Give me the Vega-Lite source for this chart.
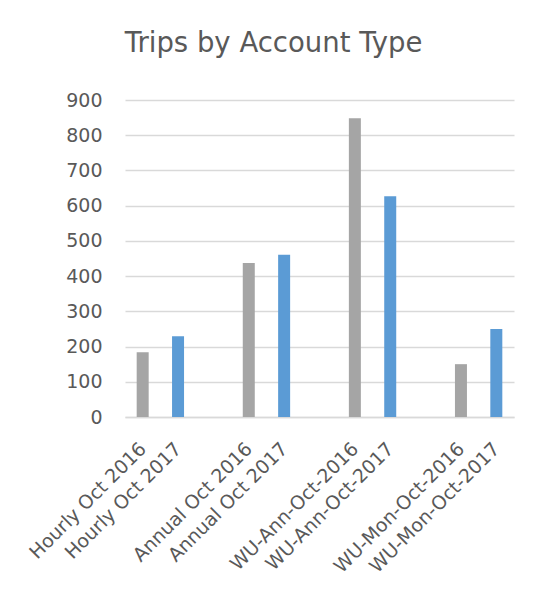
{
  "$schema": "https://vega.github.io/schema/vega-lite/v6.json",
  "width": 389,
  "height": 317,
  "padding": {"left": 26, "top": 29, "right": 25, "bottom": 5},
  "background": "white",
  "title": {
    "text": "Trips by Account Type",
    "font": "DejaVu Sans",
    "fontSize": 27.5,
    "fontWeight": "normal",
    "color": "#595959",
    "anchor": "middle",
    "frame": "group",
    "dx": -46,
    "offset": 34
  },
  "data": {
    "values": [
      {"category": "Hourly Oct 2016", "year": "2016", "trips": 184},
      {"category": "Hourly Oct 2017", "year": "2017", "trips": 229},
      {"category": "Annual Oct 2016", "year": "2016", "trips": 437},
      {"category": "Annual Oct 2017", "year": "2017", "trips": 461},
      {"category": "WU-Ann-Oct-2016", "year": "2016", "trips": 848},
      {"category": "WU-Ann-Oct-2017", "year": "2017", "trips": 627},
      {"category": "WU-Mon-Oct-2016", "year": "2016", "trips": 150},
      {"category": "WU-Mon-Oct-2017", "year": "2017", "trips": 250}
    ]
  },
  "mark": {"type": "bar", "size": 12},
  "encoding": {
    "x": {
      "field": "category",
      "type": "nominal",
      "sort": null,
      "scale": {
        "domain": ["Hourly Oct 2016", "Hourly Oct 2017", "gap1", "Annual Oct 2016", "Annual Oct 2017", "gap2", "WU-Ann-Oct-2016", "WU-Ann-Oct-2017", "gap3", "WU-Mon-Oct-2016", "WU-Mon-Oct-2017"],
        "paddingInner": 0,
        "paddingOuter": 0
      },
      "axis": {
        "title": null,
        "labelAngle": -45,
        "labelExpr": "indexof(datum.label, 'gap') === 0 ? '' : datum.label",
        "labelFont": "DejaVu Sans",
        "labelFontSize": 19,
        "labelColor": "#595959",
        "labelPadding": 22,
        "labelOffset": -6,
        "labelOverlap": false,
        "labelLimit": 300,
        "ticks": false,
        "domain": true,
        "domainColor": "#D9D9D9",
        "domainWidth": 1.5
      }
    },
    "y": {
      "field": "trips",
      "type": "quantitative",
      "scale": {"domain": [0, 900], "nice": false},
      "axis": {
        "title": null,
        "values": [0, 100, 200, 300, 400, 500, 600, 700, 800, 900],
        "labelFont": "DejaVu Sans",
        "labelFontSize": 19,
        "labelColor": "#595959",
        "labelPadding": 23,
        "ticks": false,
        "domain": false,
        "gridColor": "#D9D9D9",
        "gridWidth": 1.5
      }
    },
    "color": {
      "field": "year",
      "type": "nominal",
      "scale": {"domain": ["2016", "2017"], "range": ["#A5A5A5", "#5B9BD5"]},
      "legend": null
    }
  },
  "config": {
    "view": {"stroke": null}
  }
}
